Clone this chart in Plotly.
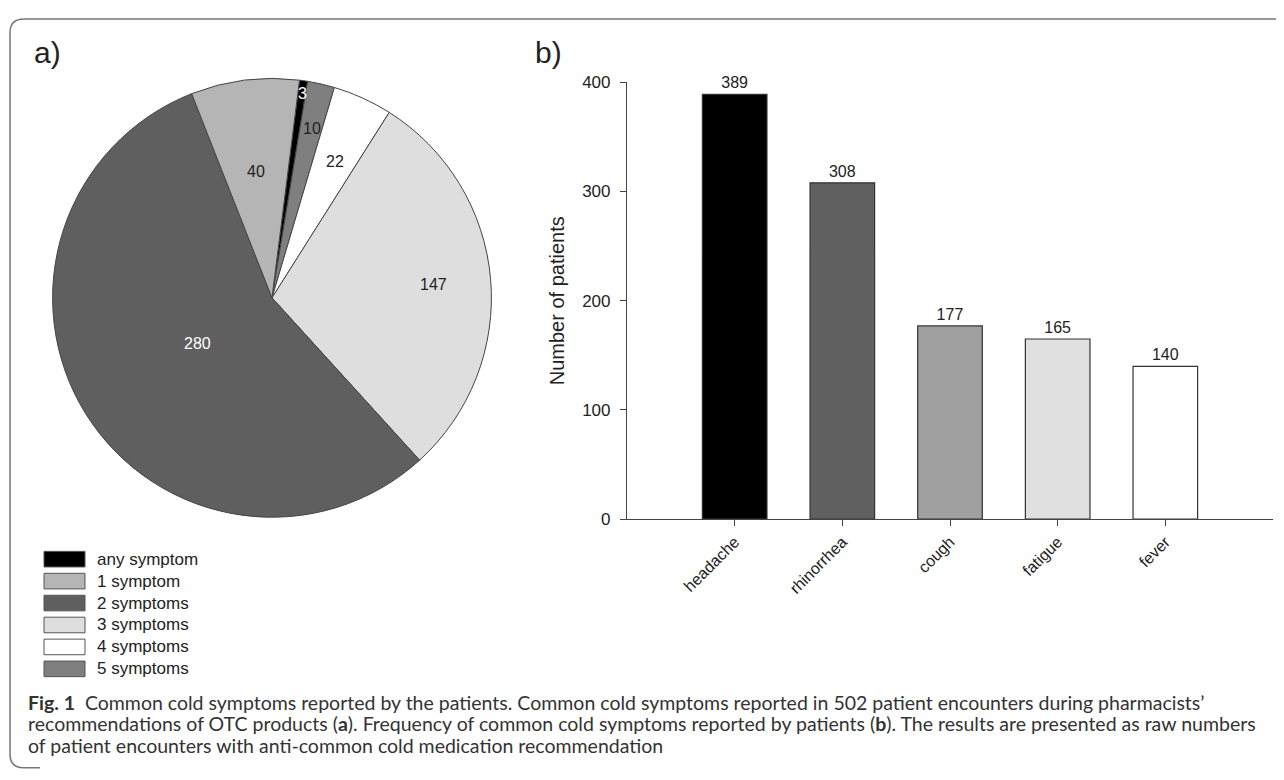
import math
import plotly.graph_objects as go

# figure size chosen so that, with the page's default 8px body margin,
# the figure fits exactly in the 1284x780 window
OFF = 8
W, H = 1284 - 2 * OFF, 780 - 2 * OFF

# ---- data ----
pie_labels = ["any symptom", "5 symptoms", "4 symptoms", "3 symptoms", "2 symptoms", "1 symptom"]
pie_values = [3, 10, 22, 147, 280, 40]
legend_order = ["any symptom", "1 symptom", "2 symptoms", "3 symptoms", "4 symptoms", "5 symptoms"]

bar_categories = ["headache", "rhinorrhea", "cough", "fatigue", "fever"]
bar_values = [389, 308, 177, 165, 140]
y_ticks = [0, 100, 200, 300, 400]

caption_lines = [
    "<b>Fig. 1</b>  Common cold symptoms reported by the patients. Common cold symptoms reported in 502 patient encounters during pharmacists\u2019",
    "recommendations of OTC products (<b>a</b>). Frequency of common cold symptoms reported by patients (<b>b</b>). The results are presented as raw numbers",
    "of patient encounters with anti-common cold medication recommendation",
]

# ---- styles ----
pie_colors = {"any symptom": "#000000", "1 symptom": "#b5b5b5", "2 symptoms": "#5f5f5f",
              "3 symptoms": "#dedede", "4 symptoms": "#ffffff", "5 symptoms": "#7f7f7f"}
pie_text_colors = ["#ffffff", "#222222", "#222222", "#222222", "#ffffff", "#222222"]
pie_label_radius = [0.94, 0.79, 0.68, 0.72, 0.39, 0.58]
bar_colors = ["#000000", "#606060", "#a0a0a0", "#e0e0e0", "#ffffff"]

PIE_CX, PIE_CY, PIE_R = 272, 296, 225
ROTATION = 7.2
FONT = "Arial, Liberation Sans, sans-serif"


def px(x):
    return (x - OFF) / W


def py(y):
    return 1 - (y - OFF) / H


fig = go.Figure()

fig.add_trace(go.Pie(
    labels=pie_labels, values=pie_values, sort=False, direction="clockwise",
    rotation=ROTATION, textinfo="none", hoverinfo="label+value",
    marker=dict(colors=[pie_colors[l] for l in pie_labels], line=dict(color="#444444", width=1)),
    domain=dict(x=[px(PIE_CX - PIE_R), px(PIE_CX + PIE_R)],
                y=[py(PIE_CY + PIE_R), py(PIE_CY - PIE_R)]),
    showlegend=False,
))

fig.add_trace(go.Bar(
    x=bar_categories, y=bar_values, width=0.6,
    marker=dict(color=bar_colors, line=dict(color="#333333", width=1.2)),
    text=[str(v) for v in bar_values], textposition="outside", cliponaxis=False,
    textfont=dict(family=FONT, size=16, color="#222222"),
    showlegend=False,
))

annotations = []
shapes = []

# pie labels at slice mid-angles
total = sum(pie_values)
start = ROTATION
for lab, val, rf, tc in zip(pie_labels, pie_values, pie_label_radius, pie_text_colors):
    span = 360.0 * val / total
    mid = math.radians(start + span / 2)
    lx = PIE_CX + rf * PIE_R * math.sin(mid)
    ly = PIE_CY - rf * PIE_R * math.cos(mid)
    annotations.append(dict(x=px(lx), y=py(ly), xref="paper", yref="paper",
                            xanchor="center", yanchor="middle",
                            text=str(val), showarrow=False,
                            font=dict(family=FONT, size=16, color=tc)))
    start += span

# custom legend
LEG_X0, LEG_X1, LEG_Y0, LEG_DY, LEG_H = 44, 85, 564, 22.5, 16
for i, lab in enumerate(legend_order):
    yc = LEG_Y0 + i * LEG_DY
    shapes.append(dict(type="rect", xref="paper", yref="paper",
                       x0=px(LEG_X0), x1=px(LEG_X1),
                       y0=py(yc + LEG_H / 2), y1=py(yc - LEG_H / 2),
                       fillcolor=pie_colors[lab], line=dict(color="#555555", width=1)))
    annotations.append(dict(x=px(LEG_X1 + 10), y=py(yc), xref="paper", yref="paper",
                            text=lab, showarrow=False, xanchor="left", yanchor="middle",
                            font=dict(family=FONT, size=17, color="#222222")))

# panel letters
for lbl, lx in (("a)", 47), ("b)", 548)):
    annotations.append(dict(x=px(lx), y=py(44), xref="paper", yref="paper", text=lbl,
                            xanchor="center", yanchor="middle", showarrow=False,
                            font=dict(family=FONT, size=30, color="#222222")))

# caption
for i, line in enumerate(caption_lines):
    annotations.append(dict(x=px(26), y=py(711 + 22 * i), xref="paper", yref="paper",
                            text=line, showarrow=False, xanchor="left", yanchor="middle",
                            font=dict(family="Lato, Open Sans, sans-serif", size=19.5, color="#333333")))

# frame (rounded, cropped at right/bottom)
shapes.append(dict(type="path", xref="paper", yref="paper",
                   path=f"M {px(1300)},{py(10)} L {px(24)},{py(10)} Q {px(10)},{py(10)} {px(10)},{py(24)} "
                        f"L {px(10)},{py(764)} Q {px(10)},{py(778)} {px(24)},{py(778)} L {px(40)},{py(778)}",
                   line=dict(color="#777777", width=1.5)))

fig.update_layout(
    width=W, height=H, margin=dict(l=0, r=0, t=0, b=0),
    paper_bgcolor="white", plot_bgcolor="white",
    font=dict(family=FONT, color="#222222"),
    annotations=annotations, shapes=shapes,
    xaxis=dict(domain=[px(627), px(1273)], range=[-1, 5], showline=True, linecolor="#444444",
               linewidth=1.2, ticks="outside", ticklen=6, tickcolor="#444444", tickangle=-45,
               tickfont=dict(family=FONT, size=16, color="#222222"), showgrid=False,
               zeroline=False, fixedrange=True),
    yaxis=dict(domain=[py(523), py(75)], range=[0, 400], tickvals=y_ticks,
               showline=True, linecolor="#444444", linewidth=1.2, ticks="outside", ticklen=6,
               tickcolor="#444444", tickfont=dict(family=FONT, size=17, color="#222222"),
               ticklabelstandoff=6,
               title=dict(text="Number of patients", font=dict(family=FONT, size=20, color="#222222"),
                          standoff=12),
               showgrid=False, zeroline=False, fixedrange=True),
    bargap=0.4,
)

fig.write_html("out.html")
